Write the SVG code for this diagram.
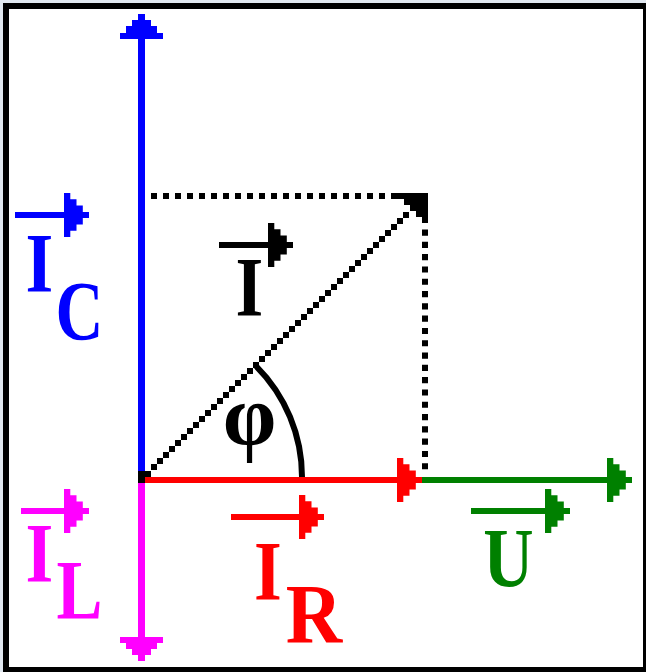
<svg xmlns="http://www.w3.org/2000/svg" xmlns:xlink="http://www.w3.org/1999/xlink" width="646" height="672" viewBox="0 0 646 672">
<style>
.t{font-family:"Liberation Serif","Times New Roman",serif;font-weight:bold;font-size:85px;text-anchor:middle}
.dot{stroke:#000;stroke-width:6;fill:none}
</style>
<defs>
<path id="ah" d="M0 0H6.3V6.2H12.5V12.4H18.8V18.9H25V25.1H18.8V31.6H12.5V37.8H6.3V44H0Z"/>
</defs>
<rect x="0" y="0" width="646" height="672" fill="#e1e8f0"/>
<rect x="6" y="6" width="640" height="664" fill="#fff" stroke="#000" stroke-width="6"/>
<g id="connectors">
<g id="IC-vector" fill="#0000ff">
<path d="M138 14H145V20H151V26H157V33H163V39H120V33H126V26H132V20H138Z"/>
<rect x="138" y="39" width="7" height="432"/>
</g>
<g id="IL-vector" fill="#ff00ff">
<rect x="138" y="483" width="7" height="154"/>
<path d="M120 637H163V643H157V649H151V655H145V661H138V655H132V649H126V643H120Z"/>
</g>
<g id="U-vector" fill="#008000">
<rect x="422" y="477" width="185" height="6"/>
<use xlink:href="#ah" transform="translate(607,458)"/>
</g>
<g id="IR-vector" fill="#ff0000">
<rect x="145" y="477" width="252" height="6"/>
<use xlink:href="#ah" transform="translate(397,458)"/>
</g>
<g id="origin" fill="#000">
<path d="M138 471H151V477H145V483H138Z"/>
</g>
<g id="I-vector" fill="#000">
<path d="M151 464h6v6h-6z m6-6h6v6h-6z m6-6h6v6h-6z m6-6h6v6h-6z m6-6h6v6h-6z m6-6h6v6h-6z m6-6h6v6h-6z m6-6h6v6h-6z m6-6h6v6h-6z m6-6h6v6h-6z m6-6h6v6h-6z m6-6h6v6h-6z m6-6h6v6h-6z m6-6h6v6h-6z m6-6h6v6h-6z m6-6h6v6h-6z m6-6h6v6h-6z m6-6h6v6h-6z m6-6h6v6h-6z m6-6h6v6h-6z m6-6h6v6h-6z m6-6h6v6h-6z m6-6h6v6h-6z m6-6h6v6h-6z m6-6h6v6h-6z m6-6h6v6h-6z m6-6h6v6h-6z m6-6h6v6h-6z m6-6h6v6h-6z m6-6h6v6h-6z m6-6h6v6h-6z m6-6h6v6h-6z m6-6h6v6h-6z m6-6h6v6h-6z m6-6h6v6h-6z m6-6h6v6h-6z m6-6h6v6h-6z m6-6h6v6h-6z m6-6h6v6h-6z m6-6h6v6h-6z m6-6h6v6h-6z m6-6h6v6h-6z m6-6h6v6h-6z"/>
<path d="M397 193H428V223H422V217H416V211H410V205H404V199H397Z"/>
</g>
<g id="projections">
<line class="dot" x1="151" y1="196" x2="397" y2="196" stroke-dasharray="6 6"/>
<line class="dot" x1="425" y1="229.5" x2="425" y2="470" stroke-dasharray="6.15 6.15"/>
</g>
<path id="angle-arc" d="M256 366A157 157 0 0 1 302 477" fill="none" stroke="#000" stroke-width="6"/>
</g>
<g id="label-IC" fill="#0000ff">
<rect x="15" y="212" width="49" height="6"/>
<use xlink:href="#ah" transform="translate(64,193)"/>
<text class="t" transform="translate(39.5,292) scale(0.84,1)">I</text>
<text class="t" transform="translate(79.5,340) scale(0.78,1)">C</text>
</g>
<g id="label-IL" fill="#ff00ff">
<rect x="21" y="508" width="43" height="6"/>
<use xlink:href="#ah" transform="translate(64,489)"/>
<text class="t" transform="translate(39.5,582) scale(0.84,1)">I</text>
<text class="t" transform="translate(79.5,619) scale(0.81,1)">L</text>
</g>
<g id="label-I" fill="#000">
<rect x="219" y="242" width="49" height="6"/>
<use xlink:href="#ah" transform="translate(268,223)"/>
<text class="t" transform="translate(249.5,316) scale(0.84,1)">I</text>
</g>
<g id="label-IR" fill="#ff0000">
<rect x="231" y="514" width="68" height="6"/>
<use xlink:href="#ah" transform="translate(299,495)"/>
<text class="t" transform="translate(268,600) scale(0.84,1)">I</text>
<text class="t" transform="translate(314,643) scale(0.92,1)">R</text>
</g>
<g id="label-U" fill="#008000">
<rect x="471" y="508" width="74" height="6"/>
<use xlink:href="#ah" transform="translate(545,489)"/>
<text class="t" transform="translate(508.5,587) scale(0.82,1)">U</text>
</g>
<g id="label-phi" fill="#000">
<text class="t" style="font-size:86px" transform="translate(249.5,444)">φ</text>
</g>
</svg>
